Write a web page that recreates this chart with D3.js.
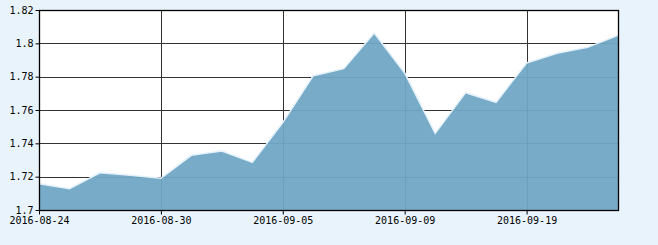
<!DOCTYPE html>
<html>
<head>
<meta charset="utf-8">
<script src="https://cdn.jsdelivr.net/npm/d3@7"></script>
<style>
  html, body { margin: 0; padding: 0; background: #e8f3fb; }
  svg { display: block; }
  .axis text { font-family: "DejaVu Sans Mono", monospace; font-size: 10px; fill: #000; }
</style>
</head>
<body>
<svg id="chart" width="658" height="245"></svg>
<script>
const dates = [
  '2016-08-24', '2016-08-25', '2016-08-26', '2016-08-29', '2016-08-30',
  '2016-08-31', '2016-09-01', '2016-09-02', '2016-09-05', '2016-09-06',
  '2016-09-07', '2016-09-08', '2016-09-09', '2016-09-12', '2016-09-13',
  '2016-09-14', '2016-09-19', '2016-09-20', '2016-09-21', '2016-09-22'
]
const values = [
  1.7158, 1.7128, 1.7223, 1.7208, 1.7190,
  1.7328, 1.7354, 1.7286, 1.7524, 1.7806,
  1.7848, 1.8062, 1.7822, 1.7460, 1.7704,
  1.7646, 1.7882, 1.7940, 1.7976, 1.8048
]
const yTicks = [1.7, 1.72, 1.74, 1.76, 1.78, 1.8, 1.82]
const xTickLabels = ['2016-08-24', '2016-08-30', '2016-09-05', '2016-09-09', '2016-09-19']

const plotLeft = 39
const plotRight = 618
const plotTop = 10
const plotBottom = 210

const svg = d3.select('#chart')

const x = d3.scalePoint().domain(dates).range([plotLeft, plotRight])
const y = d3.scaleLinear().domain([1.7, 1.82]).range([plotBottom, plotTop])

// plot background
svg.append('rect')
  .attr('x', plotLeft)
  .attr('y', plotTop)
  .attr('width', plotRight - plotLeft)
  .attr('height', plotBottom - plotTop)
  .attr('fill', '#fff')

// grid lines
const grid = svg.append('g')
grid.selectAll('.hgrid')
  .data(yTicks.slice(1, -1))
  .join('line')
  .attr('x1', plotLeft)
  .attr('x2', plotRight)
  .attr('y1', d => Math.round(y(d)) + 0.5)
  .attr('y2', d => Math.round(y(d)) + 0.5)
  .attr('stroke', '#333')
grid.selectAll('.vgrid')
  .data(xTickLabels.slice(1))
  .join('line')
  .attr('x1', d => Math.round(x(d)) + 0.5)
  .attr('x2', d => Math.round(x(d)) + 0.5)
  .attr('y1', plotTop)
  .attr('y2', plotBottom)
  .attr('stroke', '#333')

const points = dates.map((d, i) => [d, values[i]])

const area = d3.area()
  .x(d => x(d[0]))
  .y0(plotBottom)
  .y1(d => y(d[1]))

svg.append('path')
  .attr('d', area(points))
  .attr('fill', '#70a6c4')
  .attr('fill-opacity', 0.95)

const line = d3.line()
  .x(d => x(d[0]))
  .y(d => y(d[1]))

svg.append('path')
  .attr('d', line(points))
  .attr('fill', 'none')
  .attr('stroke', '#e4f1fa')
  .attr('stroke-width', 1.5)

// frame
svg.append('rect')
  .attr('x', plotLeft + 0.5)
  .attr('y', plotTop + 0.5)
  .attr('width', plotRight - plotLeft)
  .attr('height', plotBottom - plotTop)
  .attr('fill', 'none')
  .attr('stroke', '#000')
  .attr('stroke-width', 1.3)

// axes
const yAxis = d3.axisLeft(y)
  .tickValues(yTicks)
  .tickSize(4)
  .tickPadding(2)
  .tickFormat(d => String(+d.toFixed(2)))

svg.append('g')
  .attr('class', 'axis')
  .attr('transform', `translate(${plotLeft + 0.5},0)`)
  .call(yAxis)
  .call(g => g.select('.domain').remove())

const xAxis = d3.axisBottom(x)
  .tickValues(xTickLabels)
  .tickSize(4)
  .tickPadding(2)

svg.append('g')
  .attr('class', 'axis')
  .attr('transform', `translate(0,${plotBottom + 0.5})`)
  .call(xAxis)
  .call(g => g.select('.domain').remove())
</script>
</body>
</html>
